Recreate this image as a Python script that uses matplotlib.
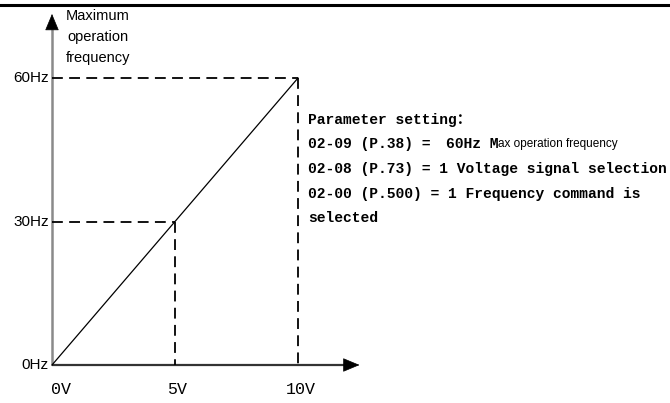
''' Libary Setup '''
import matplotlib.pyplot as plt
from matplotlib.lines import Line2D


''' Data '''
volts = [0, 5, 10]              # analog input (V)
freq = [0, 30, 60]              # output frequency (Hz)
volt_labels = ['0V', '5V', '10V']
freq_labels = ['0Hz', '30Hz', '60Hz']
y_title = 'Maximum\noperation\nfrequency'
param_lines = ['Parameter setting\uff1a',
               '02-09 (P.38) =',
               '02-08 (P.73) = 1 Voltage signal selection',
               '02-00 (P.500) = 1 Frequency command is',
               'selected']
param_value = '60Hz M'
param_tail = 'ax operation frequency'


''' Scale Setup (pixels per unit, origin of the chart in pixels) '''
W, H = 670, 403
px_v = 24.6
px_hz = 4.783
x0_px, y0_px = 52, 365            # origin, y measured from top
y_arrow_base, y_arrow_tip = 70.3, 73.4
x_arrow_base, x_arrow_tip = 11.9, 12.5

mono = ['Liberation Mono', 'Noto Sans CJK SC']
sans = 'Liberation Sans'

def px_x(xp):
    return (xp - x0_px) / px_v

def px_y(yp):
    return (y0_px - yp) / px_hz

fig = plt.figure(figsize=(W / 100, H / 100), dpi=100)
ax = fig.add_axes([0, 0, 1, 1])
ax.set_xlim(px_x(0), px_x(W))
ax.set_ylim(px_y(H), px_y(0))
ax.axis('off')

#top rule
fig.add_artist(Line2D([0, 1], [1 - 4.5 / H, 1 - 4.5 / H], color='black', lw=2.2))

''' Axes with arrows '''
ax.plot([0, 0], [0, y_arrow_base], color='#8a8a8a', lw=1.8, solid_capstyle='butt')
ax.plot([0, x_arrow_base], [0, 0], color='#333333', lw=1.6, solid_capstyle='butt')
arrow = dict(arrowstyle='-|>,head_length=0.6,head_width=0.25', color='black',
             mutation_scale=18, shrinkA=0, shrinkB=0, lw=0.5)
ax.annotate('', xy=(0, y_arrow_tip), xytext=(0, y_arrow_base - 0.1), arrowprops=arrow)
ax.annotate('', xy=(x_arrow_tip, 0), xytext=(x_arrow_base - 0.05, 0), arrowprops=arrow)

''' Curve and guide lines '''
ax.plot([volts[0], volts[-1]], [freq[0], freq[-1]], color='black', lw=0.9)
for v, f in zip(volts[1:], freq[1:]):
    ax.plot([0, v], [f, f], color='black', lw=1.3, dashes=(6, 3.5))
    ax.plot([v, v], [f, 0], color='black', lw=1.3, dashes=(6, 3.5))

''' Labels '''
for f, lab in zip(freq, freq_labels):
    ax.text(px_x(49), f, lab, ha='right', va='center', fontsize=11, family=sans)

label_shift = [0.37, 0.1, 0.12]
for v, lab, dv in zip(volts, volt_labels, label_shift):
    ax.text(v + dv, px_y(390), lab, ha='center', va='center', fontsize=12, family=mono)

ax.text(px_x(98), px_y(37), y_title, ha='center', va='center', fontsize=10.5,
        family=sans, linespacing=1.65)

line_y = [120, 144, 169, 194, 218]
texts = []
for yp, line in zip(line_y, param_lines):
    t = ax.text(px_x(308), px_y(yp), line, ha='left', va='center',
                fontsize=10.5, family=mono, fontweight='bold')
    texts.append(t)
val = ax.text(px_x(446), px_y(line_y[1]), param_value, ha='left', va='center',
              fontsize=10.5, family=mono, fontweight='bold')
ax.annotate(param_tail, xy=(1, 0.05), xycoords=val, ha='left', va='bottom',
            fontsize=8.5, family=sans)

fig.savefig('out.png', dpi=100)
